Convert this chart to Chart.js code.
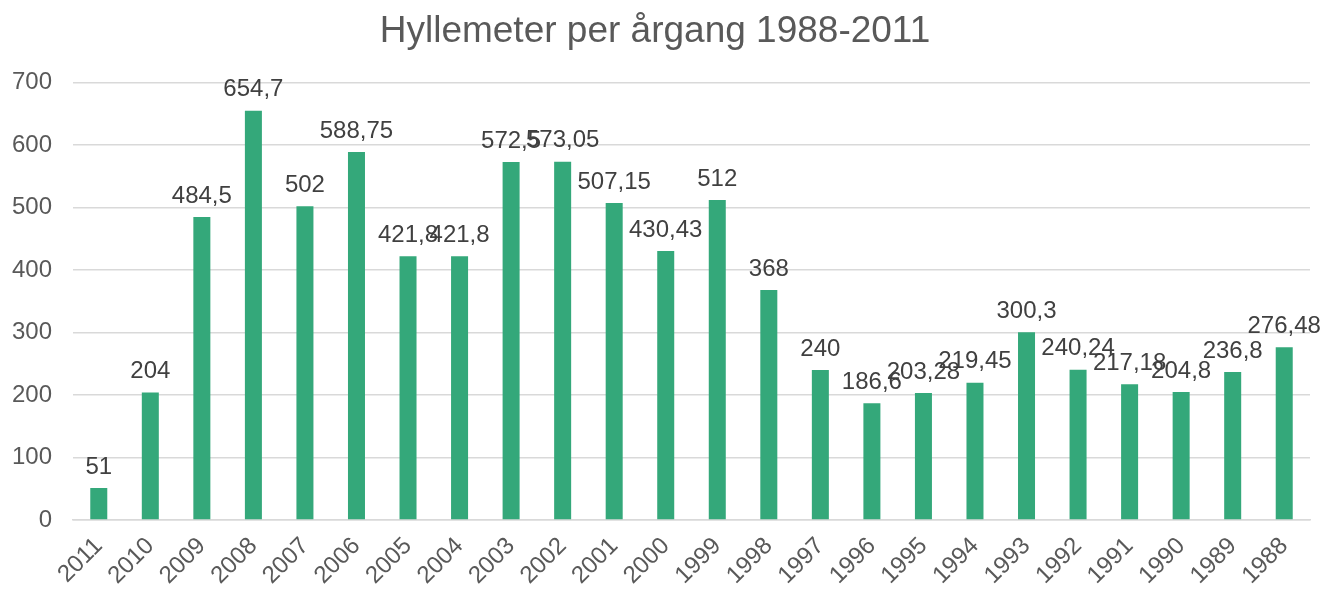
<html>
  <head>
    <style>
      body { margin: 0; padding: 0; background: #fff; }
      #wrap { width: 1323px; height: 589px; }
    </style>
    <script src="https://cdn.jsdelivr.net/npm/chart.js@4/dist/chart.umd.min.js"></script>
  </head>
  <body>
    <div id="wrap"><canvas id="canvas"></canvas></div>
    <script>
      const years = ['2011', '2010', '2009', '2008', '2007', '2006', '2005', '2004', '2003', '2002', '2001', '2000',
        '1999', '1998', '1997', '1996', '1995', '1994', '1993', '1992', '1991', '1990', '1989', '1988'];
      const meters = [51, 204, 484.5, 654.7, 502, 588.75, 421.8, 421.8, 572.5, 573.05, 507.15, 430.43,
        512, 368, 240, 186.6, 203.28, 219.45, 300.3, 240.24, 217.18, 204.8, 236.8, 276.48];
      const yTicks = [0, 100, 200, 300, 400, 500, 600, 700];
      const FONT = '"Liberation Sans", Arial, sans-serif';

      // draw value labels above the bars (comma decimals)
      const valueLabels = {
        id: 'valueLabels',
        afterDatasetsDraw(chart) {
          const ctx = chart.ctx;
          const meta = chart.getDatasetMeta(0);
          ctx.save();
          ctx.font = '24px ' + FONT;
          ctx.fillStyle = '#404040';
          ctx.textAlign = 'center';
          ctx.textBaseline = 'bottom';
          meta.data.forEach((bar, i) => {
            const txt = String(meters[i]).replace('.', ',');
            ctx.fillText(txt, bar.x, bar.y - 9);
          });
          ctx.restore();
        }
      };

      new Chart(document.getElementById('canvas'), {
        type: 'bar',
        data: {
          labels: years,
          datasets: [{
            data: meters,
            backgroundColor: '#34a87a',
            categoryPercentage: 1,
            barPercentage: 0.33,
          }],
        },
        options: {
          responsive: true,
          maintainAspectRatio: false,
          animation: false,
          layout: { padding: { left: 0, right: 13, top: 0, bottom: 0 } },
          plugins: {
            legend: { display: false },
            tooltip: { enabled: false },
            title: {
              display: true,
              text: 'Hyllemeter per årgang 1988-2011',
              color: '#595959',
              font: { family: FONT, size: 37, weight: 'normal' },
              padding: { top: 10, bottom: 28 },
            },
          },
          scales: {
            y: {
              min: 0,
              max: 700,
              afterBuildTicks: (axis) => { axis.ticks = yTicks.map((v) => ({ value: v })); },
              afterFit: (axis) => { axis.width = 73; },
              grid: { color: '#d9d9d9', lineWidth: 1.5, drawTicks: false },
              border: { display: false },
              ticks: {
                color: '#595959',
                padding: 21,
                font: { family: FONT, size: 24 },
              },
            },
            x: {
              afterFit: (axis) => { axis.height = 69; },
              grid: { display: false, drawTicks: false },
              border: { color: '#d9d9d9', width: 1.5 },
              ticks: {
                color: '#595959',
                maxRotation: 45,
                minRotation: 45,
                padding: 12,
                font: { family: FONT, size: 24 },
              },
            },
          },
        },
        plugins: [valueLabels],
      });
    </script>
  </body>
</html>
